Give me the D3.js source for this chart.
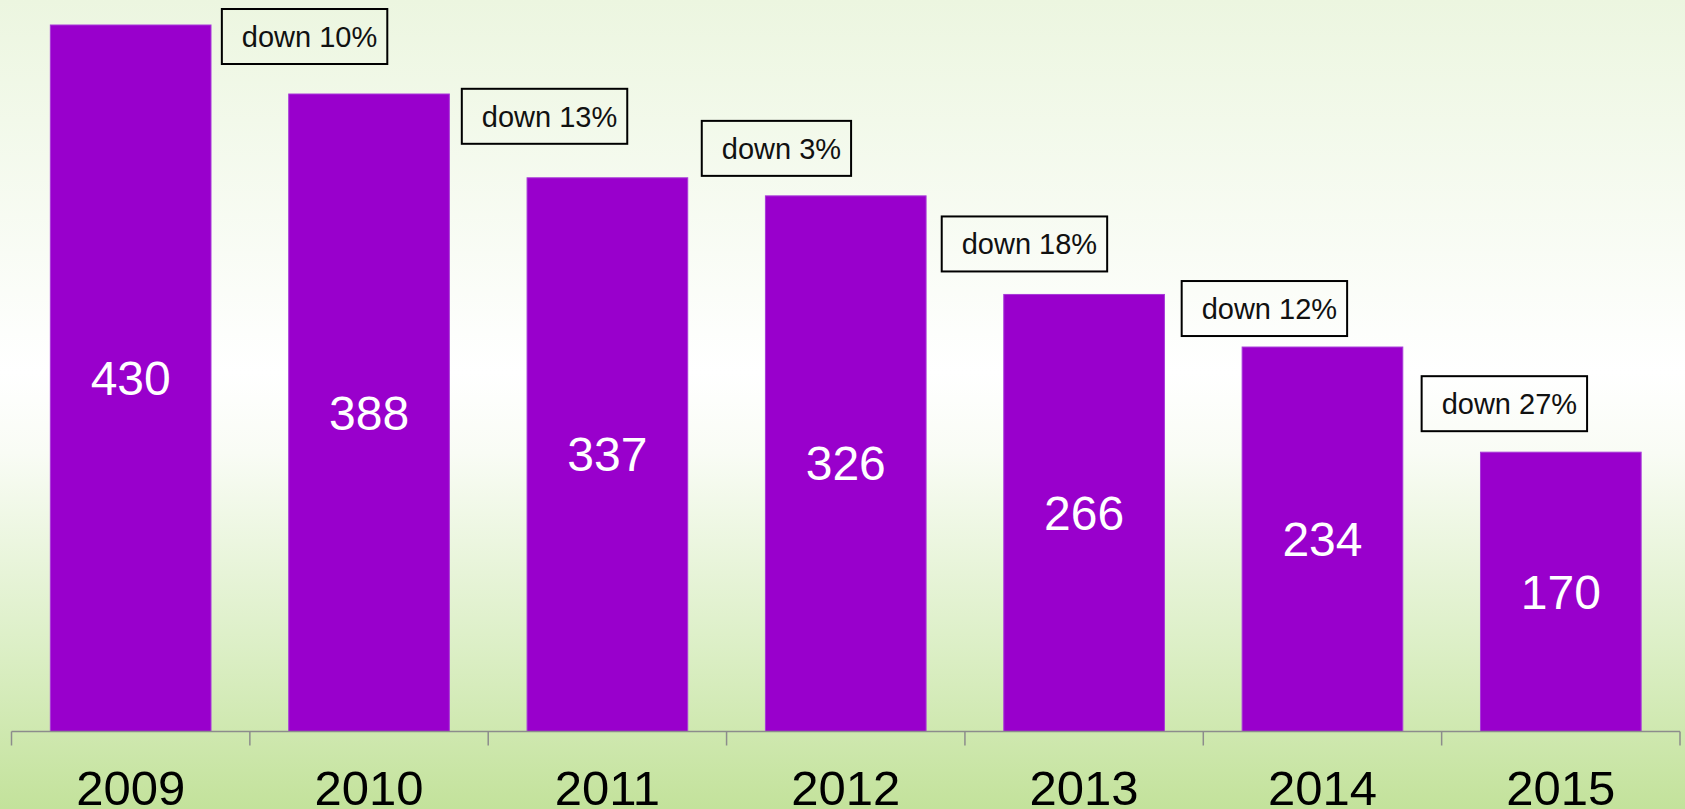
<!DOCTYPE html>
<html>
<head>
<meta charset="utf-8">
<script src="https://cdn.jsdelivr.net/npm/d3@7"></script>
<style>
  html, body { margin: 0; padding: 0; overflow: hidden; }
  svg { display: block; font-family: "Liberation Sans", Arial, sans-serif; }
</style>
</head>
<body>
<svg></svg>
<script>
'use strict';

// data
var years = ['2009', '2010', '2011', '2012', '2013', '2014', '2015'];
var values = [430, 388, 337, 326, 266, 234, 170];
// change notes sit between bar i and bar i+1
var notes = ['down 10%', 'down 13%', 'down 3%', 'down 18%', 'down 12%', 'down 27%'];

var width = 1685;
var height = 809;
var baseY = 731.5;

// how far each note box floats above the next bar (layout nudge)
var noteGap = [30, 34, 20, 23, 11, 21];

var svg = d3.select('svg')
  .attr('width', width)
  .attr('height', height);

// background gradient
var defs = svg.append('defs');
var grad = defs.append('linearGradient')
  .attr('id', 'bg')
  .attr('x1', 0).attr('y1', 0).attr('x2', 0).attr('y2', 1);
grad.append('stop').attr('offset', '0%').attr('stop-color', '#ecf6e0');
grad.append('stop').attr('offset', '46%').attr('stop-color', '#ffffff');
grad.append('stop').attr('offset', '56%').attr('stop-color', '#f9fcf5');
grad.append('stop').attr('offset', '80%').attr('stop-color', '#dcefc6');
grad.append('stop').attr('offset', '100%').attr('stop-color', '#c3e29b');

svg.append('rect')
  .attr('width', width)
  .attr('height', height)
  .attr('fill', 'url(#bg)');

// scales
var x = d3.scaleBand()
  .domain(years)
  .range([11.5, 1680])
  .paddingInner(0.326)
  .paddingOuter(0.163);

var y = d3.scaleLinear()
  .domain([0, 430])
  .range([baseY, 25]);

var step = x.step();
function boundary(i) {
  return x.range()[0] + i * step;
}

// bars
var barsG = svg.append('g').attr('class', 'bars');
barsG.selectAll('rect.bar')
  .data(values)
  .enter().append('rect')
  .attr('class', 'bar')
  .attr('x', function(d, i) { return x(years[i]); })
  .attr('y', function(d) { return y(d); })
  .attr('width', x.bandwidth())
  .attr('height', function(d) { return baseY - y(d); })
  .attr('fill', '#9900cc')
  .attr('stroke', '#a83ad8')
  .attr('stroke-width', 1);

// value labels in the middle of each bar
barsG.selectAll('text.val')
  .data(values)
  .enter().append('text')
  .attr('class', 'val')
  .attr('x', function(d, i) { return x(years[i]) + x.bandwidth() / 2; })
  .attr('y', function(d) { return (y(d) + baseY) / 2; })
  .attr('dy', '0.35em')
  .attr('text-anchor', 'middle')
  .attr('fill', '#ffffff')
  .style('font-size', '48px')
  .text(function(d) { return d; });

// x axis: line plus ticks at category boundaries
var axisG = svg.append('g').attr('class', 'axis');
axisG.append('line')
  .attr('x1', boundary(0)).attr('x2', boundary(years.length))
  .attr('y1', baseY).attr('y2', baseY)
  .attr('stroke', '#8c8c8c')
  .attr('stroke-width', 1.5);

axisG.selectAll('line.tick')
  .data(d3.range(years.length + 1))
  .enter().append('line')
  .attr('class', 'tick')
  .attr('x1', function(i) { return boundary(i); })
  .attr('x2', function(i) { return boundary(i); })
  .attr('y1', baseY)
  .attr('y2', baseY + 14)
  .attr('stroke', '#8c8c8c')
  .attr('stroke-width', 1.5);

axisG.selectAll('text.year')
  .data(years)
  .enter().append('text')
  .attr('class', 'year')
  .attr('x', function(d) { return x(d) + x.bandwidth() / 2; })
  .attr('y', 805)
  .attr('text-anchor', 'middle')
  .attr('fill', '#000000')
  .style('font-size', '49px')
  .text(function(d) { return d; });

// change notes
var noteG = svg.append('g').attr('class', 'notes');
var note = noteG.selectAll('g.note')
  .data(notes)
  .enter().append('g')
  .attr('class', 'note');

note.append('text')
  .attr('fill', '#111111')
  .style('font-size', '29px')
  .text(function(d) { return d; });

note.each(function(d, i) {
  var g = d3.select(this);
  var t = g.select('text');
  var w = t.node().getComputedTextLength();
  var boxW = w + 30;
  var boxH = 55;
  var left = boundary(i + 1) - 28 + i * 1.6;
  var top = y(values[i + 1]) - noteGap[i] - boxH;

  g.insert('rect', 'text')
    .attr('x', left)
    .attr('y', top)
    .attr('width', boxW)
    .attr('height', boxH)
    .attr('fill', 'none')
    .attr('stroke', '#000000')
    .attr('stroke-width', 2);

  t.attr('x', left + 20).attr('y', top + 38);
});
</script>
</body>
</html>
